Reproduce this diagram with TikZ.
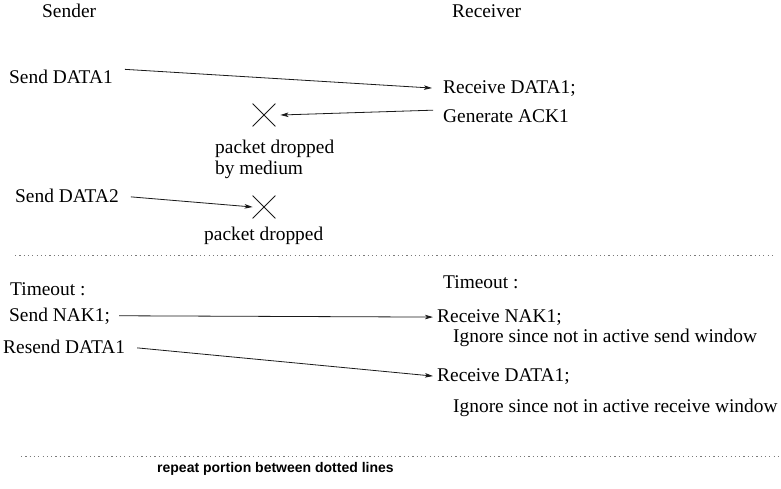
\documentclass[tikz,border=0pt]{standalone}
\usepackage{fontspec}
\setmainfont{Liberation Serif}
\setsansfont{Liberation Sans}
\usepackage{xcolor}
\usepackage{tikz}
\usetikzlibrary{arrows.meta,positioning,calc,shapes.misc}
\definecolor{ln}{HTML}{1A1A1A}
\definecolor{dt}{HTML}{7A7A7A}
\tikzset{
  txt/.style={anchor=base west, inner sep=0pt, font=\fontsize{19.4}{21}\selectfont},
  msg/.style={draw=ln, line width=0.8pt, -{Stealth[length=8pt,width=4.5pt,inset=2pt]}},
  drop/.style={cross out, draw=ln, line width=0.8pt, minimum size=22pt, inner sep=0pt},
  sep/.style={draw=dt, line width=1pt, dash pattern=on 1.2pt off 3.1pt}
}

\begin{document}
\begin{tikzpicture}[x=1pt, y=-1pt]
  \useasboundingbox (0,0) rectangle (781,488);

  % column heads
  \node[txt] (snd) at (42,17) {Sender};
  \node[txt] (rcv) at (452,17) {Receiver};

  % first round
  \node[txt] (s1) at (9,83) {Send DATA1};
  \node[txt] (r1) at (443,93) {Receive DATA1;};
  \node[txt] (r1b) at (443,122) {Generate ACK1};
  \node[drop] (x1) at (264,115) {};
  \node[txt, anchor=north west, align=left] (d1) at (215,139.5) {packet dropped\\by medium};
  \node[txt] (s2) at (15,202) {Send DATA2};
  \node[drop] (x2) at (264,207) {};
  \node[txt] (d2) at (204,240) {packet dropped};

  \draw[msg] ([xshift=12pt]s1.north east) -- ([xshift=-11pt]r1.west);
  \draw[msg] ([xshift=-10pt,yshift=5.5pt]r1b.west) -- ([xshift=5pt]x1.east);
  \draw[msg] ([xshift=12pt,yshift=-1.5pt]s2.east) -- (x2.west);

  \draw[sep] (15,255) -- (775,255);

  % timeout round
  \node[txt] (to1) at (10,295) {Timeout :};
  \node[txt] (s3) at (9,321) {Send NAK1;};
  \node[txt] (s4) at (3,353) {Resend DATA1};
  \node[txt] (to2) at (443,288) {Timeout :};
  \node[txt] (r3) at (437,322) {Receive NAK1;};
  \node[txt] (r3b) at (453,342) {Ignore since not in active send window};
  \node[txt] (r4) at (437,381) {Receive DATA1;};
  \node[txt] (r4b) at (453,412) {Ignore since not in active receive window};

  \draw[msg] ([xshift=9pt]s3.east) -- ([xshift=-4pt]r3.west);
  \draw[msg] ([xshift=12pt,yshift=-1.5pt]s4.east) -- ([xshift=-4pt]r4.west);

  \draw[sep] (21,456) -- (781,456);

  \node[anchor=base west, inner sep=0pt, font=\sffamily\bfseries\fontsize{14}{16}\selectfont]
    (note) at (157,472) {repeat portion between dotted lines};
\end{tikzpicture}
\end{document}
